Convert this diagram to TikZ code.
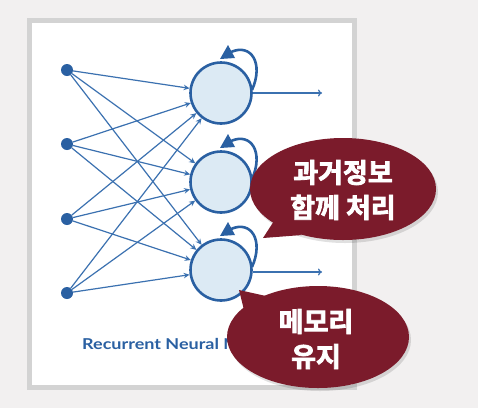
\documentclass[tikz,border=0pt]{standalone}
\usepackage{fontspec}
\setmainfont{Lato}
\newfontfamily\kr{Noto Sans CJK KR Bold}[FakeBold=3]
\usetikzlibrary{arrows.meta,shapes.geometric,calc}
\definecolor{bg}{HTML}{F2F0F0}
\definecolor{framegray}{HTML}{D3D3D3}
\definecolor{nnblue}{HTML}{2A60A2}
\definecolor{edgeblue}{HTML}{3B71B0}
\definecolor{cellfill}{HTML}{DCEAF4}
\definecolor{bubblered}{HTML}{7B1B2B}
\begin{document}
\begin{tikzpicture}[x=1pt,y=-1pt,
  inp/.style={circle,fill=nnblue,inner sep=0pt,minimum size=12pt},
  cell/.style={circle,draw=nnblue,line width=2.6pt,fill=cellfill,minimum size=61pt,inner sep=0pt},
  conn/.style={draw=edgeblue,line width=1.2pt,-{Stealth[length=6pt,width=5.5pt]}},
  outarr/.style={draw=edgeblue,line width=1.2pt,-{To[length=4pt,width=7pt]}},
  selfloop/.style={draw=nnblue,line width=2.6pt},
  loophead/.style={fill=nnblue},
  bubble/.style={ellipse,fill=bubblered,inner sep=0pt},
  btext/.style={text=white,font=\kr\fontsize{27}{35}\selectfont,align=center},
  shade/.style={fill=black,opacity=0.12}]
\useasboundingbox (0,0) rectangle (478,408);
\fill[bg] (0,0) rectangle (478,408);
\fill[framegray] (27,18) rectangle (357,390);
\fill[white] (32,23) rectangle (352,385);

% input nodes
\node[inp] (i1) at (67,70) {};
\node[inp] (i2) at (67,144) {};
\node[inp] (i3) at (67,219) {};
\node[inp] (i4) at (67,293) {};

% recurrent cells
\node[cell] (h1) at (221,93) {};
\node[cell] (h2) at (221,182) {};
\node[cell] (h3) at (221,270) {};

\foreach \i in {1,2,3,4}{
  \foreach \j in {1,2,3}{
    \draw[conn] (i\i) -- (h\j);
  }
}

\foreach \j in {1,2,3}{
  \draw[selfloop] ($(h\j)+(31,-3)$) .. controls ($(h\j)+(43,-30)$) and ($(h\j)+(30,-50)$) .. ($(h\j)+(10,-41)$);
  \fill[loophead] ($(h\j)+(7,-48)$) -- ($(h\j)+(-1,-34)$) -- ($(h\j)+(14,-35)$) -- cycle;
}

% outputs
\coordinate (o1) at (322,93);
\coordinate (o3) at (322,272);
\draw[outarr] (h1.east) -- (o1);
\draw[outarr] ($(h3.east)+(0,2)$) -- (o3);

% caption
\node[text=nnblue,font=\bfseries\fontsize{15}{18}\selectfont,anchor=base west,inner sep=0pt] (cap) at (82,349) {\scalebox{1.2}[1]{Recurrent Neural Network}};

% bubble 1
\coordinate (t1) at (263,238);
\fill[shade] (345,192) ellipse [x radius=93pt, y radius=51pt];
\node[bubble,minimum width=186pt,minimum height=102pt] (b1) at (343,189) {};
\fill[bubblered] (274,221) -- (t1) -- (302,235) -- cycle;
\node[btext] (b1t) at (343,190) {과거정보\\함께 처리};

% bubble 2
\coordinate (t2) at (239,290);
\fill[shade] (320,340) ellipse [x radius=91pt, y radius=51pt];
\node[bubble,minimum width=182pt,minimum height=102pt] (b2) at (318,337) {};
\fill[bubblered] (244,310) -- (t2) -- (266,296) -- cycle;
\node[btext] (b2t) at (316,339) {메모리\\유지};
\end{tikzpicture}
\end{document}
